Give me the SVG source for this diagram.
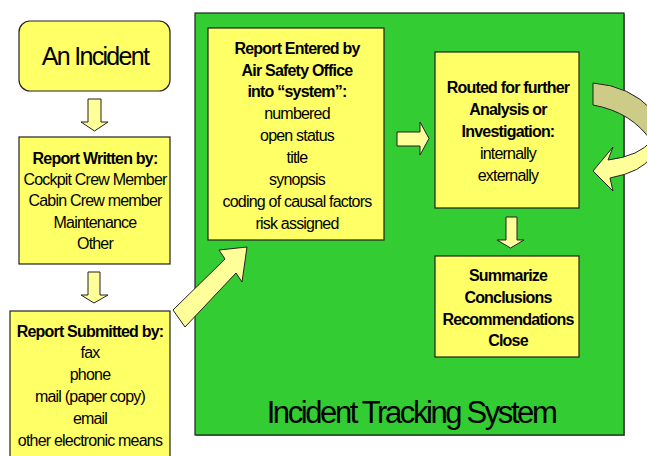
<svg xmlns="http://www.w3.org/2000/svg" width="647" height="456" viewBox="0 0 647 456">
<style>
.box{fill:#FFFF66;stroke:#222;stroke-width:1.2}
.arr{fill:#FFFF99;stroke:#222;stroke-width:1}
.t{font-family:"Liberation Sans",Arial,sans-serif;font-size:16px;letter-spacing:-0.8px;text-anchor:middle;fill:#000}
.b{font-weight:bold}
</style>
<rect width="647" height="456" fill="#fff"/>
<g id="system">
<rect x="196" y="14" width="429" height="422" fill="#888"/>
<rect x="195" y="13" width="429" height="422" fill="#33CC33" stroke="#222" stroke-width="1.2"/>
<text x="411" y="423" font-family="Liberation Sans,Arial,sans-serif" font-size="31" letter-spacing="-2.4" text-anchor="middle">Incident Tracking System</text>
</g>
<g id="incident">
<rect class="box" x="19" y="21" width="151" height="70" rx="11"/>
<text class="t" x="95" y="65" style="font-size:25px;letter-spacing:-1.7px">An Incident</text>
</g>
<g id="written">
<rect class="box" x="19" y="137" width="151" height="127"/>
<text class="t b" x="95" y="164">Report Written by:</text>
<text class="t" x="95" y="185">Cockpit Crew Member</text>
<text class="t" x="95" y="206">Cabin Crew member</text>
<text class="t" x="95" y="228">Maintenance</text>
<text class="t" x="95" y="249">Other</text>
</g>
<g id="submitted">
<rect class="box" x="10" y="311" width="160" height="160"/>
<text class="t b" x="90" y="337">Report Submitted by:</text>
<text class="t" x="90" y="358">fax</text>
<text class="t" x="90" y="380">phone</text>
<text class="t" x="90" y="402">mail (paper copy)</text>
<text class="t" x="90" y="424">email</text>
<text class="t" x="90" y="446">other electronic means</text>
</g>
<g id="entered">
<rect class="box" x="208" y="28" width="176" height="212"/>
<text class="t b" x="297" y="54">Report Entered by</text>
<text class="t b" x="297" y="76">Air Safety Office</text>
<text class="t b" x="297" y="97">into “system”:</text>
<text class="t" x="297" y="119">numbered</text>
<text class="t" x="297" y="141">open status</text>
<text class="t" x="297" y="163">title</text>
<text class="t" x="297" y="185">synopsis</text>
<text class="t" x="297" y="207">coding of causal factors</text>
<text class="t" x="297" y="229">risk assigned</text>
</g>
<g id="routed">
<rect class="box" x="435" y="52" width="144" height="156"/>
<text class="t b" x="508" y="93">Routed for further</text>
<text class="t b" x="508" y="115">Analysis or</text>
<text class="t b" x="508" y="137">Investigation:</text>
<text class="t" x="508" y="159">internally</text>
<text class="t" x="508" y="181">externally</text>
</g>
<g id="summarize">
<rect class="box" x="435" y="256" width="144" height="101"/>
<text class="t b" x="508" y="281">Summarize</text>
<text class="t b" x="508" y="303">Conclusions</text>
<text class="t b" x="508" y="325">Recommendations</text>
<text class="t b" x="508" y="346">Close</text>
</g>
<g id="connectors">
<polygon class="arr" points="88,99 101,99 101,122 108,122 94.5,131 81,122 88,122"/>
<polygon class="arr" points="88,272 100,272 100,295 108,295 94,303 81,295 88,295"/>
<polygon class="arr" points="173,310 225,259 219,250 247,247 242,282 236,273 185,327"/>
<polygon class="arr" points="397,132 420,132 420,122 429,138.5 420,155 420,146 397,146"/>
<polygon class="arr" points="506,217 517,217 517,240 524,240 510.5,248 497,240 506,240"/>
<path d="M593,83 Q630,86 652,110 L652,142 Q632,112 593,105 Z" fill="#CCCC88" stroke="#222" stroke-width="1"/>
<path d="M652,140 Q640,156 608,160 L613,147 L593,171 L613,191 L610,178 Q642,172 652,156 Z" fill="#FFFF99" stroke="#222" stroke-width="1"/>
</g>
</svg>
